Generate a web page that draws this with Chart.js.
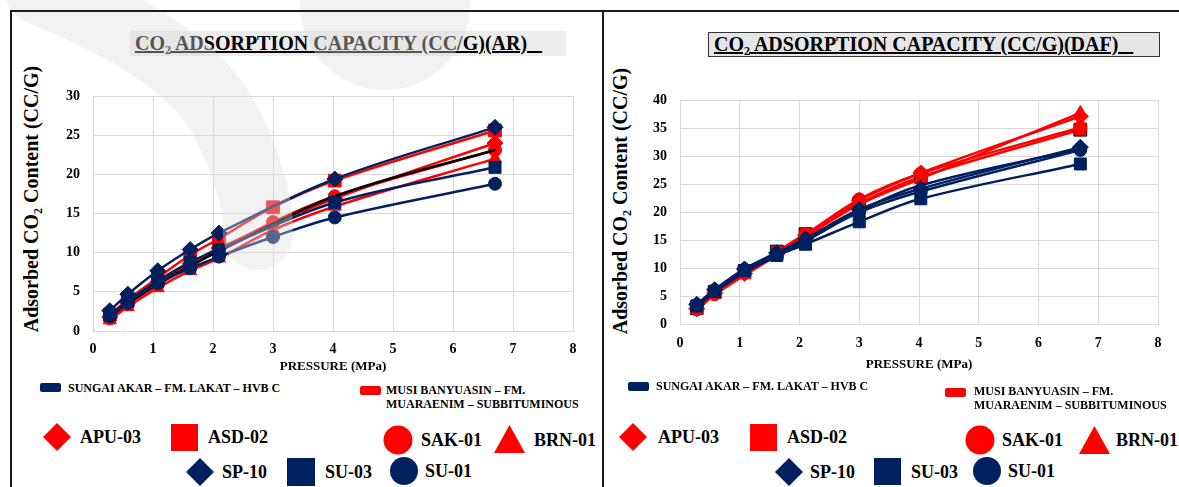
<!DOCTYPE html>
<html>
<head>
<meta charset="utf-8">
<script src="https://cdn.jsdelivr.net/npm/chart.js@4.4.1/dist/chart.umd.min.js"></script>
<style>
  body { margin: 0; width: 1179px; height: 487px; position: relative; overflow: hidden; background: #fff;
         font-family: "Liberation Serif", "Times New Roman", serif; font-weight: bold; color: #000; }
  .abs { position: absolute; }
  .line { position: absolute; background: #1a1a1a; z-index: 5; }
  .ttl { position: absolute; height: 25px; line-height: 25px; font-size: 20px; text-decoration: underline;
         white-space: pre; padding-left: 5px; box-sizing: border-box; }
  .ytitle { position: absolute; font-size: 20px; line-height: 24px; white-space: nowrap;
            transform: translate(-50%, -50%) rotate(-90deg); }
  .sw { position: absolute; width: 21px; height: 9px; border-radius: 2px; }
  .small { position: absolute; font-size: 12px; line-height: 14px; white-space: nowrap; }
  .big { position: absolute; font-size: 18px; line-height: 22px; white-space: nowrap; }
  canvas { position: absolute; }
  #wm { position: absolute; left: 0; top: 0; z-index: 4; pointer-events: none; }
</style>
</head>
<body>
<div class="line" style="left:10px;top:10px;width:1169px;height:2px"></div>
<div class="line" style="left:10px;top:10px;width:2px;height:477px"></div>
<div class="line" style="left:602px;top:10px;width:2px;height:477px"></div>

<div class="ttl" style="left:130px;top:31px;width:436px;background:#ececec">CO₂ ADSORPTION CAPACITY (CC/G)(AR)   </div>
<div class="ttl" style="left:708px;top:32px;width:452px;background:#e6e6e6;border:1px solid #333;line-height:23px">CO₂ ADSORPTION CAPACITY (CC/G)(DAF)   </div>

<div class="ytitle" style="left:31px;top:199px">Adsorbed CO₂ Content (CC/G)</div>
<div class="ytitle" style="left:620px;top:201px">Adsorbed CO₂ Content (CC/G)</div>

<canvas id="chartAR" width="575" height="320" style="left:12px;top:60px"></canvas>
<canvas id="chartDAF" width="575" height="320" style="left:598px;top:60px"></canvas>

<!-- legend, left panel -->
<div class="sw" style="left:40px;top:383px;background:#002060"></div>
<div class="small" style="left:68px;top:381px">SUNGAI AKAR – FM. LAKAT – HVB C</div>
<div class="sw" style="left:360px;top:386px;background:#ff0000"></div>
<div class="small" style="left:386px;top:383px">MUSI BANYUASIN – FM.<br>MUARAENIM – SUBBITUMINOUS</div>

<svg class="abs" style="left:43px;top:423px" width="28" height="28"><polygon points="14,0 28,14 14,28 0,14" fill="#ff0000"/></svg>
<div class="big" style="left:80px;top:426px">APU-03</div>
<svg class="abs" style="left:171px;top:424px" width="27" height="27"><rect width="27" height="27" fill="#ff0000"/></svg>
<div class="big" style="left:208px;top:426px">ASD-02</div>
<svg class="abs" style="left:383px;top:425px" width="30" height="30"><circle cx="15" cy="15" r="14.5" fill="#ff0000"/></svg>
<div class="big" style="left:421px;top:429px">SAK-01</div>
<svg class="abs" style="left:494px;top:425px" width="31" height="28"><polygon points="15.5,0 31,28 0,28" fill="#ff0000"/></svg>
<div class="big" style="left:534px;top:429px">BRN-01</div>

<svg class="abs" style="left:186px;top:458px" width="28" height="28"><polygon points="14,0 28,14 14,28 0,14" fill="#002060"/></svg>
<div class="big" style="left:222px;top:461px">SP-10</div>
<svg class="abs" style="left:287px;top:458px" width="28" height="28"><rect width="28" height="28" fill="#002060"/></svg>
<div class="big" style="left:325px;top:461px">SU-03</div>
<svg class="abs" style="left:390px;top:457px" width="28" height="28"><circle cx="14" cy="14" r="14" fill="#002060"/></svg>
<div class="big" style="left:425px;top:460px">SU-01</div>

<!-- legend, right panel -->
<div class="sw" style="left:628px;top:382px;background:#002060"></div>
<div class="small" style="left:656px;top:379px">SUNGAI AKAR – FM. LAKAT – HVB C</div>
<div class="sw" style="left:945px;top:388px;background:#ff0000"></div>
<div class="small" style="left:974px;top:384px">MUSI BANYUASIN – FM.<br>MUARAENIM – SUBBITUMINOUS</div>

<svg class="abs" style="left:619px;top:423px" width="28" height="28"><polygon points="14,0 28,14 14,28 0,14" fill="#ff0000"/></svg>
<div class="big" style="left:658px;top:426px">APU-03</div>
<svg class="abs" style="left:750px;top:424px" width="27" height="27"><rect width="27" height="27" fill="#ff0000"/></svg>
<div class="big" style="left:787px;top:426px">ASD-02</div>
<svg class="abs" style="left:965px;top:425px" width="30" height="30"><circle cx="15" cy="15" r="14.5" fill="#ff0000"/></svg>
<div class="big" style="left:1002px;top:429px">SAK-01</div>
<svg class="abs" style="left:1079px;top:426px" width="31" height="28"><polygon points="15.5,0 31,28 0,28" fill="#ff0000"/></svg>
<div class="big" style="left:1116px;top:429px">BRN-01</div>

<svg class="abs" style="left:775px;top:458px" width="28" height="28"><polygon points="14,0 28,14 14,28 0,14" fill="#002060"/></svg>
<div class="big" style="left:810px;top:461px">SP-10</div>
<svg class="abs" style="left:874px;top:458px" width="27" height="27"><rect width="27" height="27" fill="#002060"/></svg>
<div class="big" style="left:911px;top:461px">SU-03</div>
<svg class="abs" style="left:973px;top:457px" width="28" height="28"><circle cx="14" cy="14" r="14" fill="#002060"/></svg>
<div class="big" style="left:1008px;top:460px">SU-01</div>

<!-- faint watermark over the left panel -->
<svg id="wm" width="1179" height="487">
  <path d="M 40,-10 Q 190,50 225,120 T 258,235" fill="none" stroke="rgba(220,220,220,0.38)" stroke-width="70" stroke-linecap="round"/>
  <circle cx="385" cy="5" r="85" fill="rgba(220,220,220,0.38)"/>
</svg>

<script>
// pressure steps (MPa)
const pressure = [0.28, 0.58, 1.08, 1.62, 2.1, 3.0, 4.03, 6.7];

// as-received basis (cc/g)
const arSP10  = [2.6, 4.7, 7.7, 10.4, 12.5, null, 19.4, 26.0];
const arSU03  = [2.0, 3.8, 6.4, 8.8, 10.4, null, 16.4, 20.9];
const arSU01  = [1.9, 3.6, 6.1, 8.0, 9.5, 12.0, 14.5, 18.8];
const arBlack = [1.8, 3.5, 6.0, 8.3, 10.2, null, 17.2, 23.1];
const arAPU03 = [1.8, 3.6, 6.2, 8.6, 10.6, null, 16.9, 24.0];
const arASD02 = [2.1, 4.0, 6.8, 9.7, 11.8, 15.8, 19.2, 25.6];
const arSAK01 = [1.6, 3.4, 5.9, 8.3, 10.3, 13.9, 17.2, 23.1];
const arBRN01 = [1.4, 3.1, 5.5, 7.7, 9.3, 12.9, 15.9, 22.0];

// dry ash free basis (cc/g)
const dafSP10  = [3.6, 6.2, 9.9, 12.8, 15.3, 20.5, 24.2, 31.6];
const dafSU03  = [3.3, 5.9, 9.6, 12.3, 14.3, 18.3, 22.4, 28.6];
const dafSU01  = [3.5, 6.1, 9.8, 12.6, 15.0, 20.0, 23.7, 31.1];
const dafBlack = [3.1, 5.8, 9.3, 12.2, 14.8, 20.2, 24.8, 31.3];
const dafAPU03 = [2.8, 5.6, 9.1, 12.6, 15.9, 22.1, 27.0, 37.1];
const dafASD02 = [2.9, 5.8, 9.5, 13.0, 16.1, 21.6, 26.3, 34.7];
const dafSAK01 = [2.7, 5.4, 9.2, 12.8, 16.0, 22.3, 26.9, 35.1];
const dafBRN01 = [2.6, 5.3, 8.8, 12.3, 15.6, 21.4, 26.0, 37.7];

const xTicks = [0, 1, 2, 3, 4, 5, 6, 7, 8];
const NAVY = '#002060';
const RED = '#ff0000';
const FONT = 'Liberation Serif';

function series(label, vals, color, style, radius, markerColor, markerBorder) {
    return {
        label: label,
        data: pressure.map((p, i) => ({ x: p, y: vals[i] })),
        borderColor: color,
        borderWidth: 2.5,
        backgroundColor: markerColor || color,
        pointBackgroundColor: markerColor || color,
        pointBorderColor: markerBorder || markerColor || color,
        pointBorderWidth: 1,
        pointStyle: style,
        pointRadius: radius,
        spanGaps: true,
        tension: 0.35,
        fill: false
    };
}

function makeChart(id, datasets, yMax, geo) {
    const ctx = document.getElementById(id).getContext('2d');
    return new Chart(ctx, {
        type: 'line',
        data: { datasets: datasets },
        options: {
            responsive: false,
            animation: false,
            devicePixelRatio: 1,
            layout: { padding: geo.padding },
            plugins: { legend: { display: false }, tooltip: { enabled: false } },
            scales: {
                x: {
                    type: 'linear', min: 0, max: 8,
                    afterBuildTicks: axis => { axis.ticks = xTicks.map(v => ({ value: v })); },
                    afterFit: axis => { axis.height = geo.xHeight; },
                    grid: { color: '#d9d9d9', drawTicks: false },
                    border: { color: '#d9d9d9' },
                    ticks: { color: '#000', padding: 10, font: { family: FONT, size: 14, weight: 'bold' } },
                    title: { display: true, text: 'PRESSURE (MPa)', color: '#000',
                             font: { family: FONT, size: 13, weight: 'bold' } }
                },
                y: {
                    min: 0, max: yMax,
                    afterFit: axis => { axis.width = geo.yWidth; },
                    grid: { color: '#d9d9d9', drawTicks: false },
                    border: { color: '#d9d9d9' },
                    ticks: { stepSize: 5, color: '#000', padding: 13, font: { family: FONT, size: 14, weight: 'bold' } }
                }
            }
        }
    });
}

// --- AR chart (left) ---
makeChart('chartAR', [
    series('SU-01', arSU01, NAVY, 'circle', 6.5),
    series('SU-03', arSU03, NAVY, 'rect', 8.5),
    series('SP-10', arSP10, NAVY, 'rectRot', 8),
    series('', arBlack, '#000000', 'triangle', 0),
    series('BRN-01', arBRN01, RED, 'triangle', 7.5),
    series('SAK-01', arSAK01, RED, 'circle', 6.5),
    series('APU-03', arAPU03, RED, 'rectRot', 8),
    series('ASD-02', arASD02, RED, 'rect', 9)
], 30, { padding: { left: 4, right: 14, top: 36, bottom: 2 }, yWidth: 77, xHeight: 47 });

// --- DAF chart (right) ---
makeChart('chartDAF', [
    series('SU-01', dafSU01, NAVY, 'circle', 6.5),
    series('SU-03', dafSU03, NAVY, 'rect', 8.5),
    series('SP-10', dafSP10, NAVY, 'rectRot', 8),
    series('', dafBlack, NAVY, 'triangle', 5, '#000000'),
    series('BRN-01', dafBRN01, RED, 'triangle', 7.5),
    series('APU-03', dafAPU03, RED, 'rectRot', 8),
    series('SAK-01', dafSAK01, RED, 'circle', 6.5),
    series('ASD-02', dafASD02, RED, 'rect', 9, RED, '#000000')
], 40, { padding: { left: 6, right: 15, top: 40, bottom: 4 }, yWidth: 76, xHeight: 51.5 });
</script>
</body>
</html>
